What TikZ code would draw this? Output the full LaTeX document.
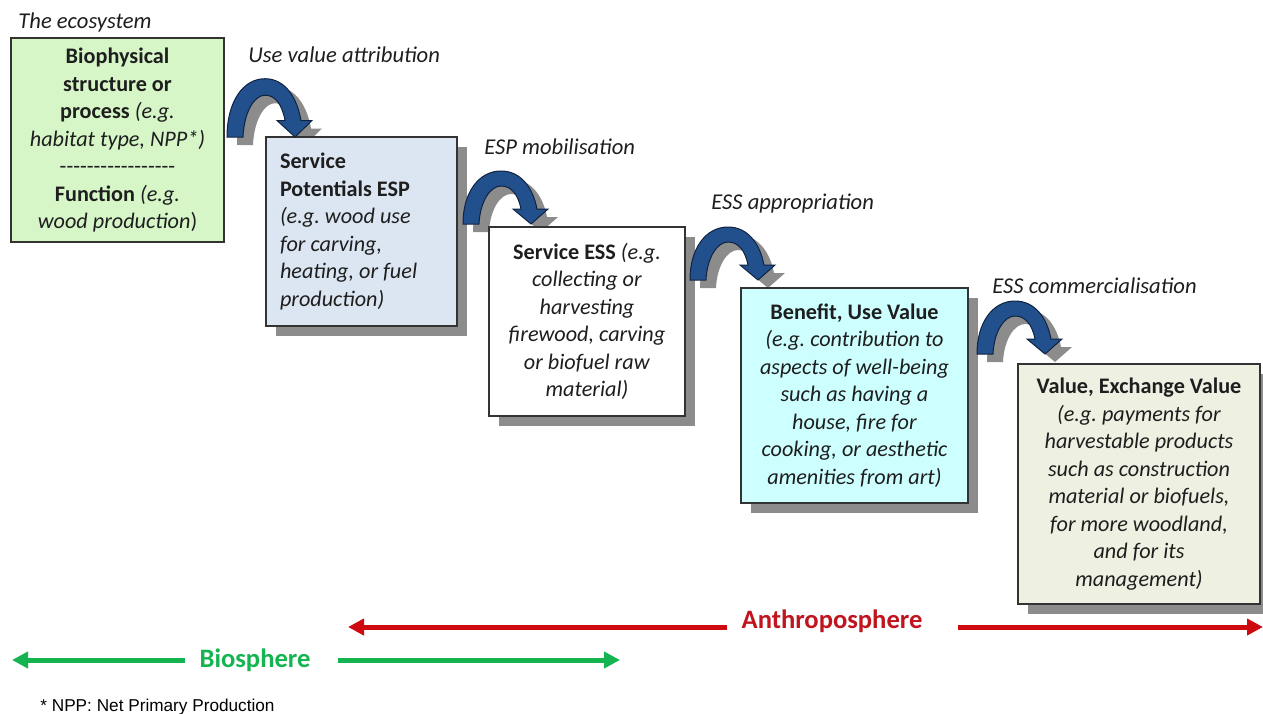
\documentclass[tikz,border=0pt]{standalone}
\usepackage{fontspec}
\setmainfont{Carlito}
\newfontfamily\arialfont{Liberation Sans}
\usetikzlibrary{arrows.meta,shadows}
\definecolor{textcol}{RGB}{30,30,30}
\definecolor{greenbox}{RGB}{214,246,200}
\definecolor{bluebox}{RGB}{220,230,242}
\definecolor{cyanbox}{RGB}{206,255,255}
\definecolor{beigebox}{RGB}{238,240,226}
\definecolor{shadowgray}{RGB}{140,140,140}
\definecolor{arrowblue}{RGB}{34,80,140}
\definecolor{arrowdark}{RGB}{15,35,65}
\definecolor{redline}{RGB}{205,10,15}
\definecolor{redtext}{RGB}{192,20,30}
\definecolor{greenline}{RGB}{20,180,80}
\newcommand\hyrow{\mbox{-}\mbox{-}\mbox{-}\mbox{-}\mbox{-}\mbox{-}\mbox{-}\mbox{-}\mbox{-}\mbox{-}\mbox{-}\mbox{-}\mbox{-}\mbox{-}\mbox{-}\mbox{-}\mbox{-}}
\tikzset{
  boxbase/.style={draw=black!80, line width=0.6pt, inner sep=0pt, text=textcol,
    font=\fontsize{11.1}{13.75}\selectfont},
  shbox/.style={boxbase, drop shadow={shadow xshift=5pt, shadow yshift=-5pt, fill=shadowgray, opacity=1}},
  steplabel/.style={anchor=west, inner sep=0pt, text=textcol, font=\fontsize{11.3}{13}\selectfont\itshape},
  curvarrow/.pic={
    \path[pic actions] (0,0) .. controls (0,-32) and (16,-53) .. (38,-53)
      .. controls (58,-53) and (70,-36) .. (74,-15) -- (85,-15) -- (68,0) -- (50,-15) -- (58,-15)
      .. controls (55,-30) and (48,-38) .. (38,-38)
      .. controls (27,-38) and (17,-22) .. (16,0) -- cycle;
  },
  arrshadow/.style={fill=shadowgray},
  arrmain/.style={fill=arrowblue, draw=arrowdark, line width=0.5pt},
  redarrow/.style={draw=redline, line width=2.5pt, -{Triangle[length=8pt,width=8pt]}},
  greenarrow/.style={draw=greenline, line width=2.5pt, -{Triangle[length=8pt,width=8pt]}},
}
\begin{document}
\begin{tikzpicture}[x=0.5pt,y=-0.5pt]
\useasboundingbox (0,0) rectangle (1263,713);

% arrow shadows
\pic[arrshadow, yscale=1.1] at (237,145) {curvarrow};
\pic[arrshadow] at (473,232) {curvarrow};
\pic[arrshadow] at (700,288) {curvarrow};
\pic[arrshadow] at (987,362) {curvarrow};

% boxes
\node[boxbase, fill=greenbox, minimum width=106.5pt, minimum height=102pt, align=center] (b1) at (117.5,140)
  {\textbf{Biophysical}\\\textbf{structure or}\\\textbf{process} \textit{(e.g.}\\\textit{habitat type, NPP*)}\\\hyrow\\\textbf{Function} \textit{(e.g.}\\\textit{wood production})};
\node[shbox, fill=bluebox, minimum width=95.5pt, minimum height=94.5pt, text width=81.5pt, align=flush left] (b2) at (361.5,231.5)
  {\textbf{Service}\\\textbf{Potentials ESP}\\\textit{(e.g.\ wood use}\\\textit{for carving,}\\\textit{heating, or fuel}\\\textit{production)}};
\node[shbox, fill=white, minimum width=98pt, minimum height=94.5pt, align=center] (b3) at (587,321.5)
  {\textbf{Service ESS} \textit{(e.g.}\\\textit{collecting or}\\\textit{harvesting}\\\textit{firewood, carving}\\\textit{or biofuel raw}\\\textit{material)}};
\node[shbox, fill=cyanbox, minimum width=113.5pt, minimum height=107.5pt, align=center] (b4) at (854.5,395.5)
  {\textbf{Benefit, Use Value}\\\textit{(e.g.\ contribution to}\\\textit{aspects of well-being}\\\textit{such as having a}\\\textit{house, fire for}\\\textit{cooking, or aesthetic}\\\textit{amenities from art)}};
\node[shbox, fill=beigebox, minimum width=121pt, minimum height=120pt, align=center] (b5) at (1139,484)
  {\textbf{Value, Exchange Value}\\\textit{(e.g.\ payments for}\\\textit{harvestable products}\\\textit{such as construction}\\\textit{material or biofuels,}\\\textit{for more woodland,}\\\textit{and for its}\\\textit{management)}};

% curved arrows
\pic[arrmain, yscale=1.1] at (227,137) {curvarrow};
\pic[arrmain] at (463,224) {curvarrow};
\pic[arrmain] at (690,280) {curvarrow};
\pic[arrmain] at (977,354) {curvarrow};

% labels
\node[steplabel] (eco) at (18,22) {The ecosystem};
\node[steplabel] (l1) at (248,55) {Use value attribution};
\node[steplabel] (l2) at (484,147) {ESP mobilisation};
\node[steplabel] (l3) at (711,204) {ESS appropriation};
\node[steplabel] (l4) at (992,286) {ESS commercialisation};

% spheres
\node[inner sep=0pt, text=redtext, font=\fontsize{13.3}{15}\selectfont\bfseries] (anth) at (832,621) {Anthroposphere};
\coordinate (aLs) at (727,627);
\coordinate (aL) at (348,627);
\coordinate (aRs) at (958,627);
\coordinate (aR) at (1263,627);
\draw[redarrow] (aLs) -- (aL);
\draw[redarrow] (aRs) -- (aR);

\node[inner sep=0pt, text=greenline, font=\fontsize{13.3}{15}\selectfont\bfseries] (bio) at (255,660) {Biosphere};
\coordinate (gLs) at (185,660);
\coordinate (gL) at (12,660);
\coordinate (gRs) at (338,660);
\coordinate (gR) at (620,660);
\draw[greenarrow] (gLs) -- (gL);
\draw[greenarrow] (gRs) -- (gR);

\node[anchor=west, inner sep=0pt, text=black, font=\arialfont\fontsize{8.6}{10}\selectfont] (fn) at (40,707) {* NPP: Net Primary Production};
\end{tikzpicture}
\end{document}
